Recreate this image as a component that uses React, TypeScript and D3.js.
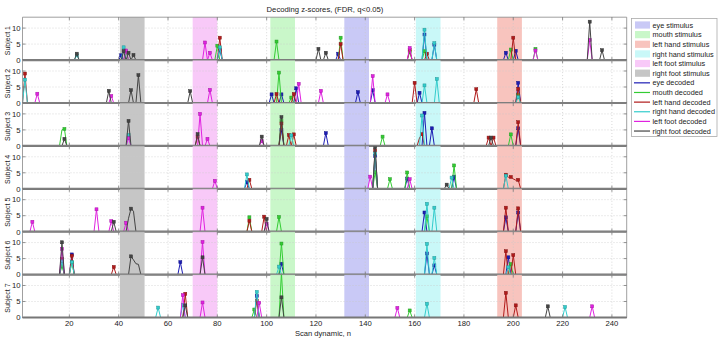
import React from 'react';
import * as d3 from 'd3';

// subjects (rows) and the six classes
const subjects = ['Subject 1', 'Subject 2', 'Subject 3', 'Subject 4', 'Subject 5', 'Subject 6', 'Subject 7'];
const classNames = ['eye', 'mouth', 'left hand', 'right hand', 'left foot', 'right foot'];
const stimColors = ['#c9c9f6', '#c9f7c9', '#f8c4be', '#c9f8f8', '#f8c9f8', '#c6c6c6'];
const lineColors = ['#1c1cb4', '#33cc33', '#b01a1a', '#33cccc', '#e022e0', '#444444'];

// stimulus windows (scan numbers)
const stimStart = [131.5, 101.5, 193.5, 160.5, 70, 40.5];
const stimEnd = [141.5, 111.5, 203.5, 170.5, 80, 50.5];

const xTicks = [20, 40, 60, 80, 100, 120, 140, 160, 180, 200, 220, 240];
const yTicks = [0, 5, 10];
const nScans = 246;

// decoded z-scores: [subject, scan, z]
const eyePeaks = [
  [1, 41, 1.5], [1, 81, 3.2], [1, 129, 2.0], [1, 164, 8.0], [1, 168, 4.8], [1, 197, 2.3], [1, 201, 2.9],
  [2, 102, 2.7], [2, 106, 2.7], [2, 112, 4.6], [2, 137, 3.4], [2, 143, 4.0], [2, 162, 3.2], [2, 202, 6.3],
  [3, 106, 5.0], [3, 124, 4.0], [3, 164, 10.3], [3, 167, 5.5], [3, 202, 5.5],
  [4, 92, 2.1], [4, 144, 10.3], [4, 157, 3.2], [4, 176, 3.8],
  [5, 164, 6.0], [5, 197, 4.5], [5, 202, 6.0],
  [6, 17, 3.8], [6, 21, 6.3], [6, 65, 3.9], [6, 106, 3.4], [6, 165, 6.6], [6, 168, 2.9], [6, 198, 5.4],
  [7, 96, 6.7],
];
const mouthPeaks = [
  [1, 43, 2.5], [1, 80, 4.5], [1, 104, 5.8], [1, 130, 7.0], [1, 158, 2.5], [1, 164, 2.8], [1, 199, 3.3], [1, 209, 3.5],
  [2, 105, 9.5], [2, 110, 1.7], [2, 202, 2.5],
  [3, 17, 5.0], [3, 18, 5.3], [3, 106, 7.8], [3, 147, 2.9], [3, 199, 3.6],
  [4, 144, 5.2], [4, 150, 3.0], [4, 157, 5.1], [4, 176, 7.3],
  [5, 93, 4.5], [5, 105, 4.6], [5, 165, 4.8],
  [6, 17, 2.6], [6, 21, 3.8], [6, 106, 9.7], [6, 199, 3.3],
  [7, 95, 2.5], [7, 106, 14.0], [7, 158, 2.2],
];
const leftHandPeaks = [
  [1, 81, 7.0], [1, 130, 5.0], [1, 158, 3.2], [1, 165, 2.0], [1, 200, 7.0],
  [2, 2, 9.2], [2, 104, 2.8], [2, 111, 2.8], [2, 160, 6.3], [2, 185, 4.3], [2, 202, 4.4],
  [3, 72, 2.8], [3, 106, 7.0], [3, 109, 3.4], [3, 111, 3.6], [3, 162, 2.5], [3, 163, 3.7], [3, 190, 2.6], [3, 192, 2.6], [3, 202, 7.4],
  [4, 93, 2.8], [4, 144, 12.0], [4, 197, 4.4], [4, 198, 3.6], [4, 199, 3.7], [4, 200, 3.1], [4, 201, 2.7], [4, 202, 2.8],
  [5, 93, 3.4], [5, 99, 4.7], [5, 197, 7.5], [5, 202, 7.3],
  [6, 17, 4.9], [6, 21, 5.9], [6, 38, 2.4], [6, 197, 7.3], [6, 200, 6.1],
  [7, 67, 7.4], [7, 96, 5.3], [7, 197, 7.7], [7, 201, 3.8],
];
const rightHandPeaks = [
  [1, 23, 1.5], [1, 42, 4.0], [1, 81, 4.0], [1, 164, 9.5], [1, 168, 5.3],
  [2, 2, 7.3], [2, 164, 5.5], [2, 169, 7.5], [2, 202, 1.8],
  [3, 44, 3.4], [3, 110, 3.3], [3, 163, 9.5],
  [4, 92, 4.5], [4, 144, 11.0], [4, 175, 3.5], [4, 197, 4.1],
  [5, 165, 8.7], [5, 168, 7.5],
  [6, 17, 4.2], [6, 21, 3.9], [6, 105, 2.5], [6, 165, 9.6], [6, 168, 5.2], [6, 198, 2.3],
  [7, 56, 3.1], [7, 66, 4.0], [7, 96, 8.0], [7, 165, 4.3], [7, 221, 3.3],
];
const leftFootPeaks = [
  [1, 43, 3.0], [1, 75, 5.5], [1, 77, 2.3], [1, 158, 3.8], [1, 209, 3.0], [1, 231, 6.3],
  [2, 7, 2.9], [2, 37, 2.2], [2, 77, 4.1], [2, 113, 6.0], [2, 122, 3.8], [2, 143, 8.4], [2, 149, 2.7],
  [3, 44, 2.4], [3, 73, 10.0], [3, 76, 2.2], [3, 98, 1.5],
  [4, 79, 2.5], [4, 142, 3.8], [4, 158, 3.0],
  [5, 5, 3.1], [5, 31, 7.0], [5, 37, 3.3], [5, 43, 2.8], [5, 74, 7.5], [5, 100, 2.5],
  [6, 17, 8.0], [6, 74, 10.2],
  [7, 66, 7.0], [7, 74, 4.7], [7, 97, 4.6], [7, 153, 3.0], [7, 232, 3.5],
];
const rightFootPeaks = [
  [1, 23, 2.0], [1, 42, 2.8], [1, 44, 2.3], [1, 46, 1.6], [1, 121, 3.5], [1, 124, 2.3], [1, 231, 12.0], [1, 236, 3.1],
  [2, 36, 3.8], [2, 45, 4.0], [2, 48, 8.7], [2, 69, 3.7],
  [3, 18, 2.2], [3, 44, 7.8], [3, 72, 3.7], [3, 98, 2.9], [3, 106, 9.0], [3, 191, 2.6],
  [4, 144, 13.0], [4, 173, 1.3],
  [5, 38, 3.1], [5, 44, 4.2], [5, 45, 7.2], [5, 46, 6.4], [5, 100, 4.0],
  [6, 17, 10.1], [6, 45, 5.7], [6, 46, 4.6], [6, 47, 3.4], [6, 48, 3.2], [6, 74, 5.4],
  [7, 67, 3.8], [7, 106, 6.3], [7, 214, 3.5],
];

const allPeaks = [eyePeaks, mouthPeaks, leftHandPeaks, rightHandPeaks, leftFootPeaks, rightFootPeaks];

const FONT = '"Liberation Sans", Arial, sans-serif';

export default function App() {
  const x = d3.scaleLinear().domain([1, nScans]).range([22.5, 626.7]);
  const panelTop = 17.2;
  const panelH = 42.9;
  const x0 = x.range()[0];
  const x1 = x.range()[1];

  const line = d3.line<[number, number]>().x(d => x(d[0]));

  const legendItems = [
    ...classNames.map((c, i) => ({ label: `${c} stimulus`, patch: stimColors[i] })),
    ...classNames.map((c, i) => ({ label: `${c} decoded`, stroke: lineColors[i] })),
  ];

  return (
    <svg width={724} height={346} style={{ position: 'fixed', left: 0, top: 0, background: '#fff' }}
      fontFamily={FONT}>
      <defs>
        {subjects.map((s, k) => (
          <clipPath id={`clip${k}`} key={s}>
            <rect x={x0} y={panelTop + k * panelH} width={x1 - x0} height={panelH} />
          </clipPath>
        ))}
      </defs>

      <text x={325} y={12} textAnchor="middle" fontSize={7.7} fill="#222">Decoding z-scores, (FDR, q&lt;0.05)</text>

      {subjects.map((s, k) => {
        const top = panelTop + k * panelH;
        const bottom = top + panelH;
        const y = d3.scaleLinear().domain([0, 13.4]).range([bottom, top]);
        line.y(d => y(d[1]));
        return (
          <g key={s}>
            {/* stimulus bands */}
            {classNames.map((c, i) => (
              <rect key={c} x={x(stimStart[i])} y={top} width={x(stimEnd[i]) - x(stimStart[i])} height={panelH}
                fill={stimColors[i]} />
            ))}
            {/* grid */}
            {xTicks.map(t => (
              <line key={t} x1={x(t)} x2={x(t)} y1={top} y2={bottom} stroke="#c8c8c8" strokeWidth={0.7}
                strokeDasharray="1,2" />
            ))}
            {yTicks.filter(t => t > 0).map(t => (
              <line key={t} x1={x0} x2={x1} y1={y(t)} y2={y(t)} stroke="#c8c8c8" strokeWidth={0.7}
                strokeDasharray="1,2" />
            ))}
            {/* decoded series */}
            <g clipPath={`url(#clip${k})`}>
              {allPeaks.map((peaks, i) => {
                const vals = new Array(nScans).fill(0);
                peaks.filter(p => p[0] === k + 1).forEach(p => { vals[p[1] - 1] = p[2]; });
                const pts: [number, number][] = vals.map((v, j) => [j + 1, v]);
                const col = lineColors[i];
                const edge = d3.color(col)!.darker(0.8).formatHex();
                const marks = pts.filter((p, j) => p[1] > 0 && p[1] >= (vals[j - 1] ?? 0) && p[1] >= (vals[j + 1] ?? 0));
                return (
                  <g key={i}>
                    <path d={line(pts) ?? ''} fill="none" stroke={col} strokeWidth={1} strokeLinejoin="round" />
                    {marks.map(p => (
                      <rect key={p[0]} x={x(p[0]) - 1.5} y={y(p[1]) - 1.5} width={3} height={3}
                        fill={col} stroke={edge} strokeWidth={0.5} />
                    ))}
                  </g>
                );
              })}
            </g>
            {/* axes box and ticks */}
            <line x1={x0} x2={x1} y1={top} y2={top} stroke="#888" strokeWidth={0.8} />
            <line x1={x0} x2={x0} y1={top} y2={bottom} stroke="#888" strokeWidth={0.8} />
            <line x1={x1} x2={x1} y1={top} y2={bottom} stroke="#888" strokeWidth={0.8} />
            {xTicks.map(t => (
              <g key={t}>
                <line x1={x(t)} x2={x(t)} y1={bottom} y2={bottom - 3} stroke="#777" strokeWidth={0.8} />
                <line x1={x(t)} x2={x(t)} y1={top} y2={top + 3} stroke="#777" strokeWidth={0.8} />
              </g>
            ))}
            {yTicks.map(t => (
              <g key={t}>
                <line x1={x0} x2={x0 + 3} y1={y(t)} y2={y(t)} stroke="#777" strokeWidth={0.8} />
                <line x1={x1} x2={x1 - 3} y1={y(t)} y2={y(t)} stroke="#777" strokeWidth={0.8} />
                <text x={x0 - 2} y={y(t) + 2.8} textAnchor="end" fontSize={7.7} fill="#222">{t}</text>
              </g>
            ))}
            {/* zero line */}
            <line x1={x0} x2={x1} y1={y(0)} y2={y(0)} stroke="#777" strokeWidth={2.2} />
            <text transform={`translate(9.5,${(top + bottom) / 2 + 2}) rotate(-90)`} textAnchor="middle"
              fontSize={7} fill="#222">{s}</text>
            {k === subjects.length - 1 && xTicks.map(t => (
              <text key={t} x={x(t)} y={bottom + 8.5} textAnchor="middle" fontSize={7.7} fill="#222">{t}</text>
            ))}
          </g>
        );
      })}

      <text x={323} y={336} textAnchor="middle" fontSize={7.6} fill="#222">Scan dynamic, n</text>

      {/* legend */}
      <rect x={631.5} y={18.5} width={85.5} height={118} fill="#fff" stroke="#aaa" strokeWidth={0.8} />
      {legendItems.map((it, i) => {
        const cy = 25 + i * 9.64;
        return (
          <g key={it.label}>
            {it.patch
              ? <rect x={635} y={cy - 3.6} width={15} height={7.2} fill={it.patch} />
              : <line x1={634} x2={650} y1={cy} y2={cy} stroke={it.stroke} strokeWidth={1.2} />}
            <text x={652.5} y={cy + 2.6} fontSize={7.3} fill="#222">{it.label}</text>
          </g>
        );
      })}
    </svg>
  );
}
